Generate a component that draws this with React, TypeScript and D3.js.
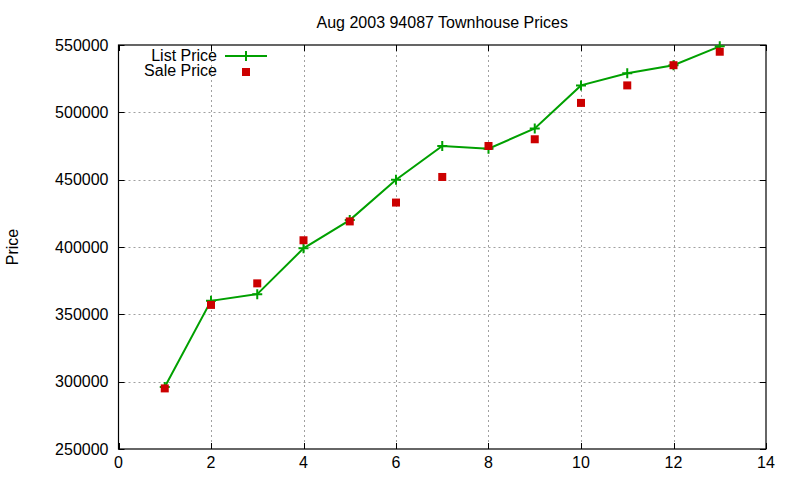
import React, { useEffect, useRef } from 'react';
import * as d3 from 'd3';

// months (x) and prices
const months = [1, 2, 3, 4, 5, 6, 7, 8, 9, 10, 11, 12, 13];
const listPrice = [296000, 360000, 365000, 399000, 420000, 450000, 475000, 473000, 488000, 520000, 529000, 535000, 549000];
const salePrice = [295000, 357000, 373000, 405000, 419000, 433000, 452000, 475000, 480000, 507000, 520000, 535000, 545000];
const xTicks = [0, 2, 4, 6, 8, 10, 12, 14];
const yTicks = [250000, 300000, 350000, 400000, 450000, 500000, 550000];

const W = 800;
const H = 480;
const margin = { top: 45, right: 34, bottom: 31, left: 118.5 };
const FONT = '"Liberation Sans", Arial, sans-serif';
const FS = 16;
const GREEN = '#00a000';
const RED = '#cc0000';

const App: React.FC = () => {
  const svgRef = useRef<SVGSVGElement | null>(null);

  useEffect(() => {
    const svg = d3.select(svgRef.current);
    svg.selectAll('*').remove();

    const x = d3.scaleLinear().domain([0, 14]).range([margin.left, W - margin.right]);
    const y = d3.scaleLinear().domain([250000, 550000]).range([H - margin.bottom, margin.top]);
    const [x0, x1] = x.range();
    const [y0, y1] = y.range();

    svg.append('rect').attr('width', W).attr('height', H).attr('fill', '#fff');

    // grid
    const grid = svg.append('g').attr('stroke', '#a0a0a0').attr('stroke-width', 1).attr('stroke-dasharray', '2,3');
    grid.selectAll('line.gx')
      .data(xTicks.slice(1, -1))
      .join('line')
      .attr('x1', d => Math.round(x(d)) + 0.5).attr('x2', d => Math.round(x(d)) + 0.5)
      .attr('y1', y1).attr('y2', y0);
    grid.selectAll('line.gy')
      .data(yTicks.slice(1, -1))
      .join('line')
      .attr('x1', x0).attr('x2', x1)
      .attr('y1', d => Math.round(y(d)) + 0.5).attr('y2', d => Math.round(y(d)) + 0.5);

    // ticks, inward on all four sides
    const tk = 6;
    const ticks = svg.append('g').attr('stroke', '#000').attr('stroke-width', 1);
    xTicks.forEach(t => {
      const px = Math.round(x(t)) + 0.5;
      ticks.append('line').attr('x1', px).attr('x2', px).attr('y1', y0).attr('y2', y0 - tk);
      ticks.append('line').attr('x1', px).attr('x2', px).attr('y1', y1).attr('y2', y1 + tk);
    });
    yTicks.forEach(t => {
      const py = Math.round(y(t)) + 0.5;
      ticks.append('line').attr('x1', x0).attr('x2', x0 + tk).attr('y1', py).attr('y2', py);
      ticks.append('line').attr('x1', x1).attr('x2', x1 - tk).attr('y1', py).attr('y2', py);
    });

    // border
    svg.append('rect')
      .attr('x', x0).attr('y', y1)
      .attr('width', x1 - x0).attr('height', y0 - y1)
      .attr('fill', 'none').attr('stroke', '#000').attr('stroke-width', 1.2);

    // tick labels
    svg.append('g').selectAll('text')
      .data(xTicks)
      .join('text')
      .attr('x', d => x(d))
      .attr('y', y0 + 18.5)
      .attr('text-anchor', 'middle')
      .attr('font-family', FONT).attr('font-size', FS)
      .text(d => String(d));
    svg.append('g').selectAll('text')
      .data(yTicks)
      .join('text')
      .attr('x', x0 - 10)
      .attr('y', d => y(d) + 5.5)
      .attr('text-anchor', 'end')
      .attr('font-family', FONT).attr('font-size', FS)
      .text(d => String(d));

    // title and axis label
    svg.append('text')
      .attr('x', (x0 + x1) / 2).attr('y', 27.5)
      .attr('text-anchor', 'middle')
      .attr('font-family', FONT).attr('font-size', FS)
      .text('Aug 2003 94087 Townhouse Prices');
    svg.append('text')
      .attr('transform', `translate(18,${(y0 + y1) / 2}) rotate(-90)`)
      .attr('text-anchor', 'middle')
      .attr('font-family', FONT).attr('font-size', FS)
      .text('Price');

    // list price line with crosses
    const line = d3.line<number>()
      .x((_, i) => x(months[i]))
      .y(d => y(d));
    svg.append('path')
      .datum(listPrice)
      .attr('d', line)
      .attr('fill', 'none').attr('stroke', GREEN).attr('stroke-width', 2);

    const cross = (g: any, cx: number, cy: number) => {
      g.append('path')
        .attr('d', `M${cx - 5},${cy}H${cx + 5}M${cx},${cy - 5}V${cy + 5}`)
        .attr('stroke', GREEN).attr('stroke-width', 2);
    };
    const crosses = svg.append('g');
    listPrice.forEach((v, i) => cross(crosses, x(months[i]), y(v)));

    // sale price squares
    svg.append('g').selectAll('rect')
      .data(salePrice)
      .join('rect')
      .attr('x', (_, i) => x(months[i]) - 4)
      .attr('y', d => y(d) - 4)
      .attr('width', 8).attr('height', 8)
      .attr('fill', RED);

    // legend
    const lg = svg.append('g').attr('font-family', FONT).attr('font-size', FS);
    lg.append('text').attr('x', 217).attr('y', 60.5).attr('text-anchor', 'end').text('List Price');
    lg.append('line').attr('x1', 225).attr('x2', 267).attr('y1', 56).attr('y2', 56)
      .attr('stroke', GREEN).attr('stroke-width', 2);
    cross(lg, 246, 56);
    lg.append('text').attr('x', 217).attr('y', 76).attr('text-anchor', 'end').text('Sale Price');
    lg.append('rect').attr('x', 242).attr('y', 68).attr('width', 8).attr('height', 8).attr('fill', RED);

    return () => {
      svg.selectAll('*').remove();
    };
  }, []);

  return (
    <svg ref={svgRef} width={W} height={H} style={{ position: 'absolute', left: 0, top: 0 }} />
  );
};

export default App;
